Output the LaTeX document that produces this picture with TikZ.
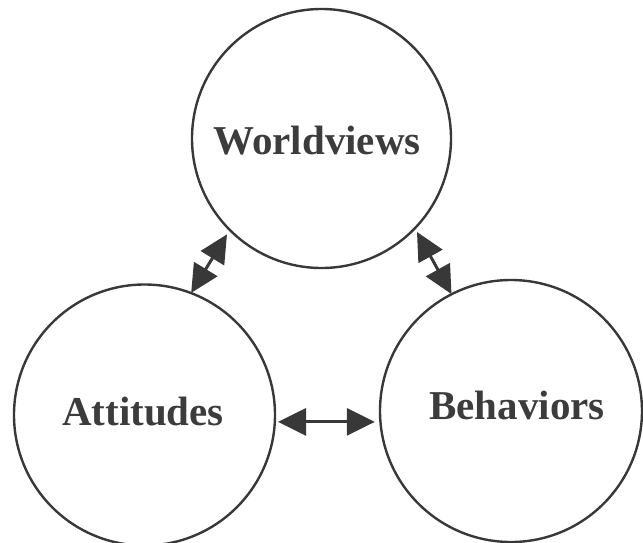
\documentclass[tikz,border=0pt]{standalone}
\usepackage{fontspec}
\setmainfont{Liberation Serif}
\usetikzlibrary{arrows.meta}
\definecolor{ink}{HTML}{383838}
\definecolor{txt}{HTML}{3C3C3C}
\begin{document}
\begin{tikzpicture}[x=1pt,y=-1pt,
  ring/.style={circle,draw=ink,line width=2.4pt,minimum size=#1,inner sep=0pt},
  lbl/.style={anchor=base,text=txt,font=\fontsize{41}{48}\selectfont\bfseries},
  biarrow/.style={draw=ink,line width=3pt,{Triangle[length=28pt,width=27pt]}-{Triangle[length=28pt,width=27pt]}}]
\useasboundingbox (0,0) rectangle (643,542);
\node[ring=259pt] (W) at (321.5,138.5) {};
\node[ring=261pt] (A) at (144.5,415) {};
\node[ring=262pt] (B) at (511,411) {};
\node[lbl] (Wt) at (317,154) {Worldviews};
\node[lbl] (At) at (143,425) {Attitudes};
\node[lbl] (Bt) at (517,419) {Behaviors};
\draw[biarrow,shorten <=4pt,shorten >=-1pt] (W.225) -- (A.69);
\draw[biarrow,shorten <=3pt,shorten >=-1pt] (W.316) -- (B.117);
\draw[biarrow,shorten <=2pt,shorten >=4pt] (A.-3) -- (A.-3 -| B.west);
\end{tikzpicture}
\end{document}
